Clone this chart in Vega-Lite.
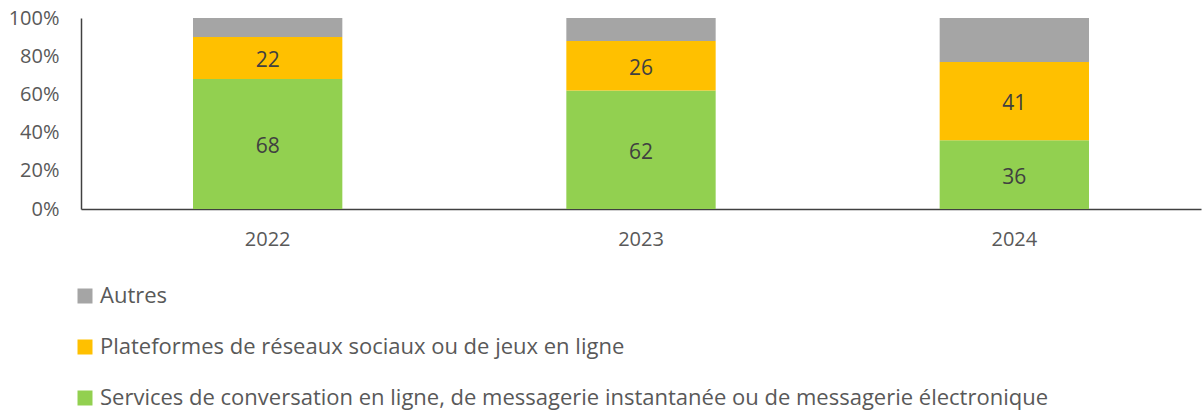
{
  "$schema": "https://vega.github.io/schema/vega-lite/v6.json",
  "width": 1120,
  "height": 191,
  "autosize": "none",
  "padding": {"left": 81, "top": 18, "right": 1, "bottom": 201},
  "background": "white",
  "config": {
    "font": "Open Sans",
    "view": {"stroke": null},
    "axis": {"labelFontSize": 20, "labelColor": "#595959", "ticks": false, "grid": false, "domainColor": "#404040", "domainWidth": 1.5, "title": null},
    "axisX": {"labelPadding": 20, "labelAngle": 0},
    "axisY": {"labelPadding": 22, "labelOverlap": false}
  },
  "data": {
    "values": [
      {"annee": "2022", "categorie": "Services de conversation en ligne, de messagerie instantanée ou de messagerie électronique", "part": 68},
      {"annee": "2022", "categorie": "Plateformes de réseaux sociaux ou de jeux en ligne", "part": 22},
      {"annee": "2022", "categorie": "Autres", "part": 10},
      {"annee": "2023", "categorie": "Services de conversation en ligne, de messagerie instantanée ou de messagerie électronique", "part": 62},
      {"annee": "2023", "categorie": "Plateformes de réseaux sociaux ou de jeux en ligne", "part": 26},
      {"annee": "2023", "categorie": "Autres", "part": 12},
      {"annee": "2024", "categorie": "Services de conversation en ligne, de messagerie instantanée ou de messagerie électronique", "part": 36},
      {"annee": "2024", "categorie": "Plateformes de réseaux sociaux ou de jeux en ligne", "part": 41},
      {"annee": "2024", "categorie": "Autres", "part": 23}
    ]
  },
  "transform": [
    {"stack": "part", "groupby": ["annee"], "sort": [{"field": "categorie", "order": "descending"}], "as": ["y0", "y1"]},
    {"calculate": "(datum.y0 + datum.y1) / 2", "as": "ymid"}
  ],
  "encoding": {
    "x": {
      "field": "annee", "type": "nominal",
      "scale": {"paddingInner": 0.6, "paddingOuter": 0.3},
      "axis": {"title": null}
    }
  },
  "layer": [
    {
      "mark": {"type": "bar"},
      "encoding": {
        "y": {"field": "y0", "type": "quantitative", "scale": {"domain": [0, 100]},
          "axis": {"title": null, "values": [0, 20, 40, 60, 80, 100], "labelExpr": "datum.value + '%'"}},
        "y2": {"field": "y1"},
        "color": {
          "field": "categorie", "type": "nominal",
          "scale": {
            "domain": ["Autres", "Plateformes de réseaux sociaux ou de jeux en ligne", "Services de conversation en ligne, de messagerie instantanée ou de messagerie électronique"],
            "range": ["#A5A5A5", "#FFC000", "#92D050"]
          },
          "legend": {
            "title": null, "orient": "none", "direction": "vertical",
            "legendX": -7, "legendY": 267,
            "symbolType": "square", "symbolSize": 225, "symbolStrokeWidth": 0,
            "labelFontSize": 22, "labelColor": "#595959", "labelLimit": 1200,
            "rowPadding": 29, "labelOffset": 4
          }
        }
      }
    },
    {
      "transform": [{"filter": "datum.categorie != 'Autres'"}],
      "mark": {"type": "text", "fontSize": 21, "color": "#404040", "dy": 3},
      "encoding": {
        "y": {"field": "ymid", "type": "quantitative",
          "axis": {"title": null, "values": [0, 20, 40, 60, 80, 100], "labelExpr": "datum.value + '%'"}},
        "text": {"field": "part", "type": "quantitative"}
      }
    }
  ]
}
